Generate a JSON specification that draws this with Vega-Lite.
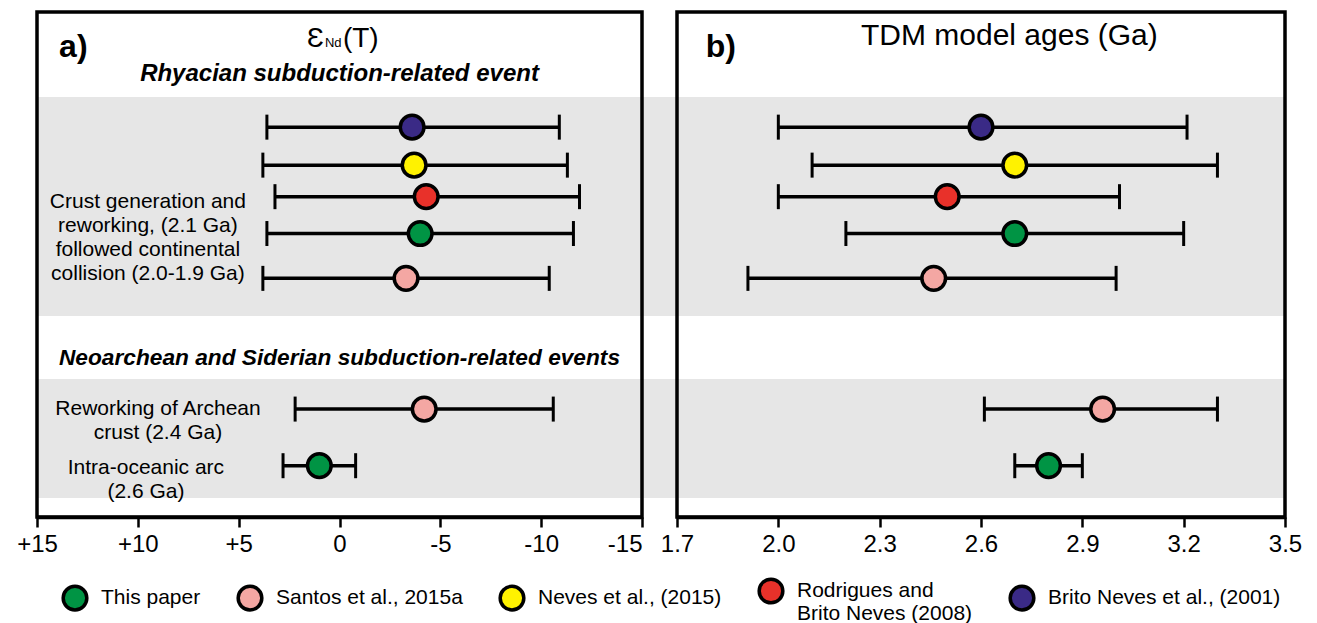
{
  "$schema": "https://vega.github.io/schema/vega-lite/v6.json",
  "width": 1248,
  "height": 505,
  "autosize": {"type": "none"},
  "padding": {"left": 37, "top": 12, "right": 32, "bottom": 106},
  "background": "white",
  "config": {
    "view": {"stroke": null},
    "font": "Liberation Sans",
    "axis": {
      "domainColor": "black",
      "domainWidth": 3.5,
      "tickColor": "black",
      "tickWidth": 2.5,
      "tickSize": 10,
      "labelFont": "Liberation Sans",
      "labelFontSize": 24,
      "labelColor": "black",
      "labelPadding": 5,
      "labelFlush": false,
      "labelOverlap": false,
      "grid": false
    },
    "legend": {
      "orient": "none",
      "legendX": 24,
      "legendY": 565,
      "direction": "horizontal",
      "columns": 5,
      "columnPadding": 30,
      "padding": 0,
      "symbolType": "circle",
      "symbolSize": 560,
      "symbolStrokeColor": "black",
      "symbolStrokeWidth": 3.5,
      "symbolOpacity": 1,
      "labelFont": "Liberation Sans",
      "labelFontSize": 21,
      "labelColor": "black",
      "labelLimit": 400,
      "labelOffset": 12
    }
  },
  "datasets": {
    "one": [{}],
    "bands": [
      {"band": "Rhyacian", "start": 0.21, "end": 5.97},
      {"band": "Neoarchean-Siderian", "start": 7.63, "end": 10.76}
    ],
    "eps": [
      {"row": 1, "source": "Brito Neves et al., (2001)", "lo": 3.6, "mid": -3.6, "hi": -10.9},
      {"row": 2, "source": "Neves et al., (2015)", "lo": 3.8, "mid": -3.7, "hi": -11.3},
      {"row": 2.83, "source": "Rodrigues and Brito Neves (2008)", "lo": 3.2, "mid": -4.3, "hi": -11.9},
      {"row": 3.8, "source": "This paper", "lo": 3.6, "mid": -4.0, "hi": -11.6},
      {"row": 4.98, "source": "Santos et al., 2015a", "lo": 3.8, "mid": -3.3, "hi": -10.4},
      {"row": 8.42, "source": "Santos et al., 2015a", "lo": 2.2, "mid": -4.2, "hi": -10.6},
      {"row": 9.91, "source": "This paper", "lo": 2.8, "mid": 1.0, "hi": -0.8}
    ],
    "tdm": [
      {"row": 1, "source": "Brito Neves et al., (2001)", "lo": 2.0, "mid": 2.6, "hi": 3.21},
      {"row": 2, "source": "Neves et al., (2015)", "lo": 2.1, "mid": 2.7, "hi": 3.3},
      {"row": 2.83, "source": "Rodrigues and Brito Neves (2008)", "lo": 2.0, "mid": 2.5, "hi": 3.01},
      {"row": 3.8, "source": "This paper", "lo": 2.2, "mid": 2.7, "hi": 3.2},
      {"row": 4.98, "source": "Santos et al., 2015a", "lo": 1.91, "mid": 2.46, "hi": 3.0},
      {"row": 8.42, "source": "Santos et al., 2015a", "lo": 2.61, "mid": 2.96, "hi": 3.3},
      {"row": 9.91, "source": "This paper", "lo": 2.7, "mid": 2.8, "hi": 2.9}
    ]
  },
  "layer": [
    {
      "description": "Grey bands marking the two tectonic events, across both panels",
      "data": {"name": "bands"},
      "mark": {"type": "rect", "color": "#e6e6e6"},
      "encoding": {
        "y": {"field": "start", "type": "quantitative", "scale": {"domain": [-2.03, 11.26], "reverse": true, "nice": false, "zero": false}, "axis": null},
        "y2": {"field": "end"}
      }
    },
    {
      "description": "Panel a: epsilon Nd(T)",
      "layer": [
        {
          "data": {"name": "eps"},
          "mark": {"type": "rule", "color": "black", "strokeWidth": 3.5},
          "encoding": {
            "x": {
              "field": "lo", "type": "quantitative",
              "scale": {"domain": [-15, 15], "reverse": true, "range": [0, 605], "nice": false, "zero": false},
              "axis": {
                "orient": "bottom",
                "title": null,
                "values": [15, 10, 5, 0, -5, -10, -15],
                "labelAlign": {"condition": {"test": "datum.value == -15", "value": "right"}, "value": "center"},
                "labelExpr": "datum.value > 0 ? '+' + datum.value : (datum.value < 0 ? '-' + abs(datum.value) : '0')"
              }
            },
            "x2": {"field": "hi"},
            "y": {"field": "row", "type": "quantitative", "scale": {"domain": [-2.03, 11.26], "reverse": true, "nice": false, "zero": false}, "axis": null}
          }
        },
        {
          "data": {"name": "one"},
          "mark": {"type": "rect", "filled": false, "stroke": "black", "strokeWidth": 3.5},
          "encoding": {
            "x": {"datum": 15, "type": "quantitative"},
            "x2": {"datum": -15},
            "y": {"datum": -2.03, "type": "quantitative", "axis": null},
            "y2": {"datum": 11.26}
          }
        },
        {
          "data": {"name": "eps"},
          "mark": {"type": "tick", "orient": "vertical", "color": "black", "size": 25, "thickness": 3, "opacity": 1},
          "encoding": {
            "x": {"field": "lo", "type": "quantitative"},
            "y": {"field": "row", "type": "quantitative", "axis": null}
          }
        },
        {
          "data": {"name": "eps"},
          "mark": {"type": "tick", "orient": "vertical", "color": "black", "size": 25, "thickness": 3, "opacity": 1},
          "encoding": {
            "x": {"field": "hi", "type": "quantitative"},
            "y": {"field": "row", "type": "quantitative", "axis": null}
          }
        },
        {
          "data": {"name": "eps"},
          "mark": {"type": "point", "shape": "circle", "filled": true, "size": 560, "stroke": "black", "strokeWidth": 3.5, "opacity": 1},
          "encoding": {
            "x": {"field": "mid", "type": "quantitative"},
            "y": {"field": "row", "type": "quantitative", "axis": null},
            "fill": {
              "field": "source", "type": "nominal",
              "scale": {
                "domain": ["This paper", "Santos et al., 2015a", "Neves et al., (2015)", "Rodrigues and Brito Neves (2008)", "Brito Neves et al., (2001)"],
                "range": ["#009444", "#f4a7a3", "#fff200", "#e8312a", "#3a2a86"]
              },
              "legend": {
                "title": null,
                "labelExpr": "datum.label == 'Rodrigues and Brito Neves (2008)' ? ['Rodrigues and', 'Brito Neves (2008)'] : datum.label"
              }
            }
          }
        },
        {
          "data": {"name": "one"},
          "mark": {"type": "text", "text": "a)", "font": "Liberation Sans", "fontSize": 32, "fontWeight": "bold", "align": "center", "baseline": "middle", "color": "black"},
          "encoding": {
            "x": {"datum": 13.2, "type": "quantitative"},
            "y": {"datum": -1.105, "type": "quantitative", "axis": null}
          }
        },
        {
          "data": {"name": "one"},
          "mark": {"type": "text", "text": "Ɛ", "font": "Liberation Sans", "fontSize": 28, "align": "left", "baseline": "alphabetic", "color": "black"},
          "encoding": {
            "x": {"datum": 1.61, "type": "quantitative"},
            "y": {"datum": -1.105, "type": "quantitative", "axis": null}
          }
        },
        {
          "data": {"name": "one"},
          "mark": {"type": "text", "text": "Nd", "font": "Liberation Sans", "fontSize": 13, "align": "left", "baseline": "alphabetic", "color": "black"},
          "encoding": {
            "x": {"datum": 0.72, "type": "quantitative"},
            "y": {"datum": -1.105, "type": "quantitative", "axis": null}
          }
        },
        {
          "data": {"name": "one"},
          "mark": {"type": "text", "text": "(T)", "font": "Liberation Sans", "fontSize": 28, "align": "left", "baseline": "alphabetic", "color": "black"},
          "encoding": {
            "x": {"datum": -0.17, "type": "quantitative"},
            "y": {"datum": -1.105, "type": "quantitative", "axis": null}
          }
        },
        {
          "data": {"name": "one"},
          "mark": {"type": "text", "text": "Rhyacian subduction-related event", "font": "Liberation Sans", "fontSize": 24, "fontWeight": "bold", "fontStyle": "italic", "align": "center", "baseline": "middle", "color": "black"},
          "encoding": {
            "x": {"datum": 0, "type": "quantitative"},
            "y": {"datum": -0.395, "type": "quantitative", "axis": null}
          }
        },
        {
          "data": {"name": "one"},
          "mark": {"type": "text", "text": "Neoarchean and Siderian subduction-related events", "font": "Liberation Sans", "fontSize": 22.7, "fontWeight": "bold", "fontStyle": "italic", "align": "center", "baseline": "middle", "color": "black"},
          "encoding": {
            "x": {"datum": 0, "type": "quantitative"},
            "y": {"datum": 7.08, "type": "quantitative", "axis": null}
          }
        },
        {
          "data": {"name": "one"},
          "mark": {"type": "text", "text": ["Crust generation and", "reworking, (2.1 Ga)", "followed continental", "collision (2.0-1.9 Ga)"], "font": "Liberation Sans", "fontSize": 21, "lineHeight": 24, "align": "center", "baseline": "middle", "color": "black"},
          "encoding": {
            "x": {"datum": 9.5, "type": "quantitative"},
            "y": {"datum": 2.96, "type": "quantitative", "axis": null}
          }
        },
        {
          "data": {"name": "one"},
          "mark": {"type": "text", "text": ["Reworking of Archean", "crust (2.4 Ga)"], "font": "Liberation Sans", "fontSize": 21, "lineHeight": 24, "align": "center", "baseline": "middle", "color": "black"},
          "encoding": {
            "x": {"datum": 9.0, "type": "quantitative"},
            "y": {"datum": 8.41, "type": "quantitative", "axis": null}
          }
        },
        {
          "data": {"name": "one"},
          "mark": {"type": "text", "text": ["Intra-oceanic arc", "(2.6 Ga)"], "font": "Liberation Sans", "fontSize": 21, "lineHeight": 24, "align": "center", "baseline": "middle", "color": "black"},
          "encoding": {
            "x": {"datum": 9.6, "type": "quantitative"},
            "y": {"datum": 9.96, "type": "quantitative", "axis": null}
          }
        }
      ]
    },
    {
      "description": "Panel b: TDM model ages",
      "layer": [
        {
          "data": {"name": "tdm"},
          "mark": {"type": "rule", "color": "black", "strokeWidth": 3.5},
          "encoding": {
            "x": {
              "field": "lo", "type": "quantitative",
              "scale": {"domain": [1.7, 3.5], "range": [640, 1248], "nice": false, "zero": false},
              "axis": {
                "orient": "bottom",
                "title": null,
                "values": [1.7, 2.0, 2.3, 2.6, 2.9, 3.2, 3.5],
                "format": ".1f"
              }
            },
            "x2": {"field": "hi"},
            "y": {"field": "row", "type": "quantitative", "scale": {"domain": [-2.03, 11.26], "reverse": true, "nice": false, "zero": false}, "axis": null}
          }
        },
        {
          "data": {"name": "one"},
          "mark": {"type": "rect", "filled": false, "stroke": "black", "strokeWidth": 3.5},
          "encoding": {
            "x": {"datum": 1.7, "type": "quantitative"},
            "x2": {"datum": 3.5},
            "y": {"datum": -2.03, "type": "quantitative", "axis": null},
            "y2": {"datum": 11.26}
          }
        },
        {
          "data": {"name": "tdm"},
          "mark": {"type": "tick", "orient": "vertical", "color": "black", "size": 25, "thickness": 3, "opacity": 1},
          "encoding": {
            "x": {"field": "lo", "type": "quantitative"},
            "y": {"field": "row", "type": "quantitative", "axis": null}
          }
        },
        {
          "data": {"name": "tdm"},
          "mark": {"type": "tick", "orient": "vertical", "color": "black", "size": 25, "thickness": 3, "opacity": 1},
          "encoding": {
            "x": {"field": "hi", "type": "quantitative"},
            "y": {"field": "row", "type": "quantitative", "axis": null}
          }
        },
        {
          "data": {"name": "tdm"},
          "mark": {"type": "point", "shape": "circle", "filled": true, "size": 560, "stroke": "black", "strokeWidth": 3.5, "opacity": 1},
          "encoding": {
            "x": {"field": "mid", "type": "quantitative"},
            "y": {"field": "row", "type": "quantitative", "axis": null},
            "fill": {
              "field": "source", "type": "nominal",
              "legend": {
                "title": null,
                "labelExpr": "datum.label == 'Rodrigues and Brito Neves (2008)' ? ['Rodrigues and', 'Brito Neves (2008)'] : datum.label"
              }
            }
          }
        },
        {
          "data": {"name": "one"},
          "mark": {"type": "text", "text": "b)", "font": "Liberation Sans", "fontSize": 32, "fontWeight": "bold", "align": "center", "baseline": "middle", "color": "black"},
          "encoding": {
            "x": {"datum": 1.83, "type": "quantitative"},
            "y": {"datum": -1.105, "type": "quantitative", "axis": null}
          }
        },
        {
          "data": {"name": "one"},
          "mark": {"type": "text", "text": "TDM model ages (Ga)", "font": "Liberation Sans", "fontSize": 30, "align": "center", "baseline": "alphabetic", "color": "black"},
          "encoding": {
            "x": {"datum": 2.684, "type": "quantitative"},
            "y": {"datum": -1.158, "type": "quantitative", "axis": null}
          }
        }
      ]
    }
  ],
  "resolve": {"scale": {"x": "independent"}}
}
